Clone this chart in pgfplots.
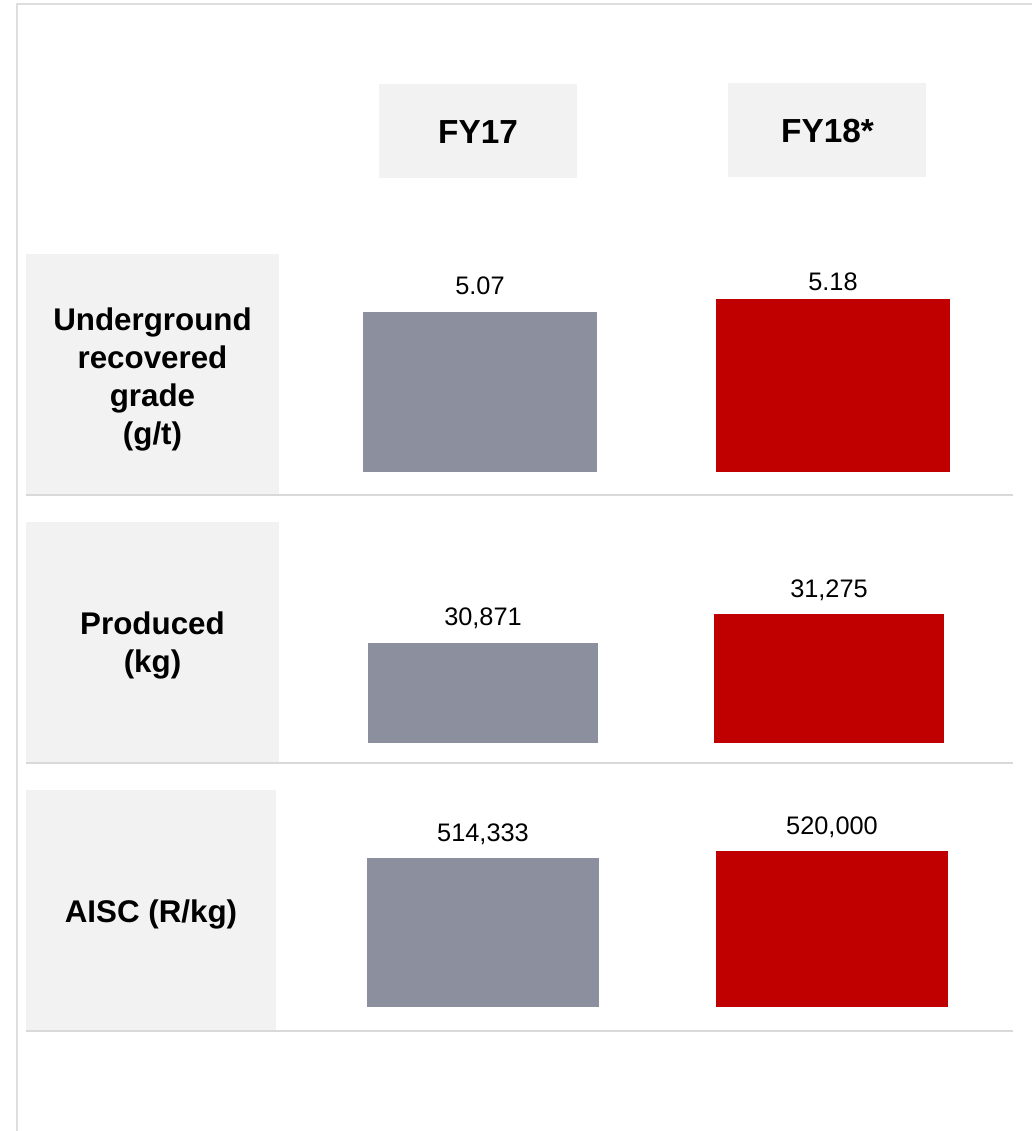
\documentclass[border=0pt]{standalone}
\usepackage{fontspec}
\setmainfont{Liberation Sans}
\usepackage{pgfplots}
\pgfplotsset{compat=1.18}

\definecolor{barGrey}{HTML}{8C8F9D}
\definecolor{barRed}{HTML}{C00000}
\definecolor{panel}{HTML}{F2F2F2}
\definecolor{rulegrey}{HTML}{D9D9D9}
\definecolor{framegrey}{HTML}{DEDEDE}

% common look of one KPI row: two bars, no axis lines, value above each bar
\pgfplotsset{
  kpirow/.style={
    scale only axis,
    anchor=south west,
    width=549.75pt,
    hide axis,
    ybar,
    bar shift=0pt,
    clip mode=individual,
    nodes near coords,
    every node near coord/.style={anchor=base, text=black,
      font=\fontsize{19}{22}\selectfont},
  },
  intlabels/.style={
    nodes near coords={\pgfmathprintnumber[assume math mode=true,
      fixed,precision=0,1000 sep={,}]{\pgfplotspointmeta}},
  },
  declabels/.style={
    nodes near coords={\pgfmathprintnumber[assume math mode=true,
      fixed,fixed zerofill,precision=2]{\pgfplotspointmeta}},
  },
}

\begin{document}
\begin{tikzpicture}[x=0.75pt,y=-0.75pt]
  \path[use as bounding box] (0,0) rectangle (1032,1131);

  % outer frame (top and left edges)
  \draw[framegrey, line width=1.5pt] (16.5,1131) -- (16.5,4) -- (1032,4);

  % column headers
  \fill[panel] (379,84) rectangle (577,178);
  \fill[panel] (728,83) rectangle (926,177);
  \node[font=\bfseries\fontsize{25}{30}\selectfont] at (478,132) {FY17};
  \node[font=\bfseries\fontsize{25}{30}\selectfont] at (827.5,131) {FY18*};

  % row label panels
  \fill[panel] (26,254) rectangle (279,494);
  \fill[panel] (26,522) rectangle (279,762);
  \fill[panel] (26,790) rectangle (276,1030);
  \begin{scope}[every node/.style={align=center,
      font=\bfseries\fontsize{23.5}{28.5}\selectfont}]
    \node at (152.5,379) {Underground\\recovered\\grade\\(g/t)};
    \node at (152.5,645) {Produced\\(kg)};
    \node at (151,914) {AISC (R/kg)};
  \end{scope}

  % row separators
  \draw[rulegrey, line width=1.5pt] (26,495) -- (1013,495);
  \draw[rulegrey, line width=1.5pt] (26,763) -- (1013,763);
  \draw[rulegrey, line width=1.5pt] (26,1031) -- (1013,1031);

  % Underground recovered grade (g/t)
  \begin{axis}[kpirow, declabels,
      at={(210pt,-354pt)}, height=163.5pt,
      xmin=-0.5666, xmax=1.5099, ymin=3.7164, ymax=5.5607]
    \addplot[fill=barGrey, draw=none, bar width=175.5pt,
      every node near coord/.append style={yshift=13.5pt}]
      coordinates {(0,5.07)};
    \addplot[fill=barRed, draw=none, bar width=175.5pt,
      every node near coord/.append style={yshift=6.75pt}]
      coordinates {(1,5.18)};
  \end{axis}

  % Produced (kg)
  \begin{axis}[kpirow, intlabels,
      at={(210pt,-557.25pt)}, height=165.75pt,
      xmin=-0.5867, xmax=1.5318, ymin=29477.9, ymax=32556.8]
    \addplot[fill=barGrey, draw=none, bar width=172.5pt,
      every node near coord/.append style={yshift=13.5pt}]
      coordinates {(0,30871)};
    \addplot[fill=barRed, draw=none, bar width=172.5pt,
      every node near coord/.append style={yshift=12.75pt}]
      coordinates {(1,31275)};
  \end{axis}

  % AISC (R/kg)
  \begin{axis}[kpirow, intlabels,
      at={(210pt,-755.25pt)}, height=162.75pt,
      xmin=-0.5817, xmax=1.5186, ymin=393705, ymax=569385]
    \addplot[fill=barGrey, draw=none, bar width=174pt,
      every node near coord/.append style={yshift=12.75pt}]
      coordinates {(0,514333)};
    \addplot[fill=barRed, draw=none, bar width=174pt,
      every node near coord/.append style={yshift=12.75pt}]
      coordinates {(1,520000)};
  \end{axis}
\end{tikzpicture}
\end{document}
